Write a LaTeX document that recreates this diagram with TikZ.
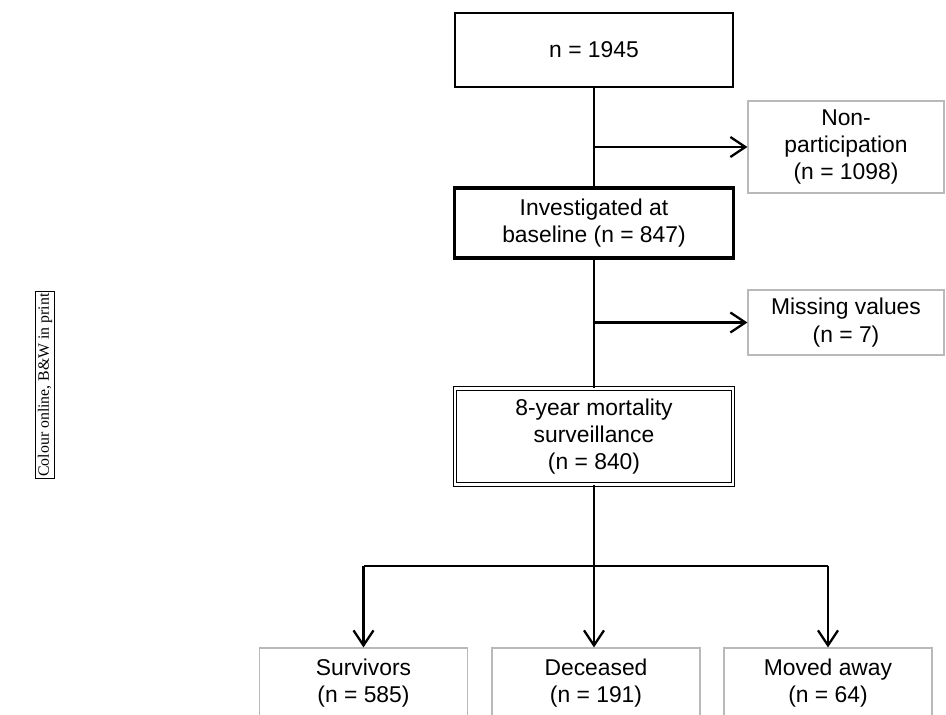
\documentclass[tikz,border=0pt]{standalone}
\usepackage{fontspec}
\setmainfont{Liberation Sans}
\newfontfamily\notefont{Liberation Serif}
\usetikzlibrary{arrows.meta}

\begin{document}
\begin{tikzpicture}[x=0.02cm, y=-0.02cm, font=\fontsize{13}{15.5}\selectfont,
  box/.style={draw,line width=1pt,align=center,inner sep=0pt,minimum width=5.56cm,minimum height=1.48cm},
  side/.style={draw=gray!55,line width=0.7pt,align=center,inner sep=0pt,minimum width=3.92cm},
  outcome/.style={side,minimum width=4.16cm,minimum height=1.4cm},
  link/.style={line width=1.3pt},
  arr/.style={link,-{Straight Barb[length=3mm,width=4mm]}}]
\useasboundingbox (0,0) rectangle (946,714);
% main column
\node[box] (all) at (594,50) {n = 1945};
\node[box,line width=1.8pt,minimum width=5.58cm,minimum height=1.4cm] (base) at (594,223) {Investigated at\\baseline (n = 847)};
\node[box,double,double distance=1.6pt,line width=0.6pt,minimum width=5.56cm,minimum height=1.92cm] (mort) at (594,436.5) {8-year mortality\\surveillance\\(n = 840)};
% exclusions
\node[side,minimum height=1.84cm] (nonp) at (846,147) {Non-\\participation\\(n = 1098)};
\node[side,minimum height=1.3cm] (miss) at (846,322.5) {Missing values\\(n = 7)};
% outcomes
\node[outcome] (alive) at (363.5,683) {Survivors\\(n = 585)};
\node[outcome] (dead) at (596,683) {Deceased\\(n = 191)};
\node[outcome] (moved) at (828,683) {Moved away\\(n = 64)};
\coordinate (split) at (594,566);
% connectors
\draw[link] (all) -- (base);
\draw[arr] (all.south |- nonp.west) -- (nonp.west);
\draw[link] (base) -- (mort);
\draw[arr] (base.south |- miss.west) -- (miss.west);
\draw[link] (mort.south) -- (split);
\draw[link] (split -| alive.north) -- (split -| moved.north);
\draw[arr] (split -| alive.north) -- (alive.north);
\draw[arr] (split) -- (split |- dead.north);
\draw[arr] (split -| moved.north) -- (moved.north);
% side note
\node[draw,line width=0.5pt,rotate=90,inner sep=1.2pt,font=\notefont\fontsize{9}{10}\selectfont] (note) at (45,385) {Colour online, B\&W in print};
\end{tikzpicture}
\end{document}
